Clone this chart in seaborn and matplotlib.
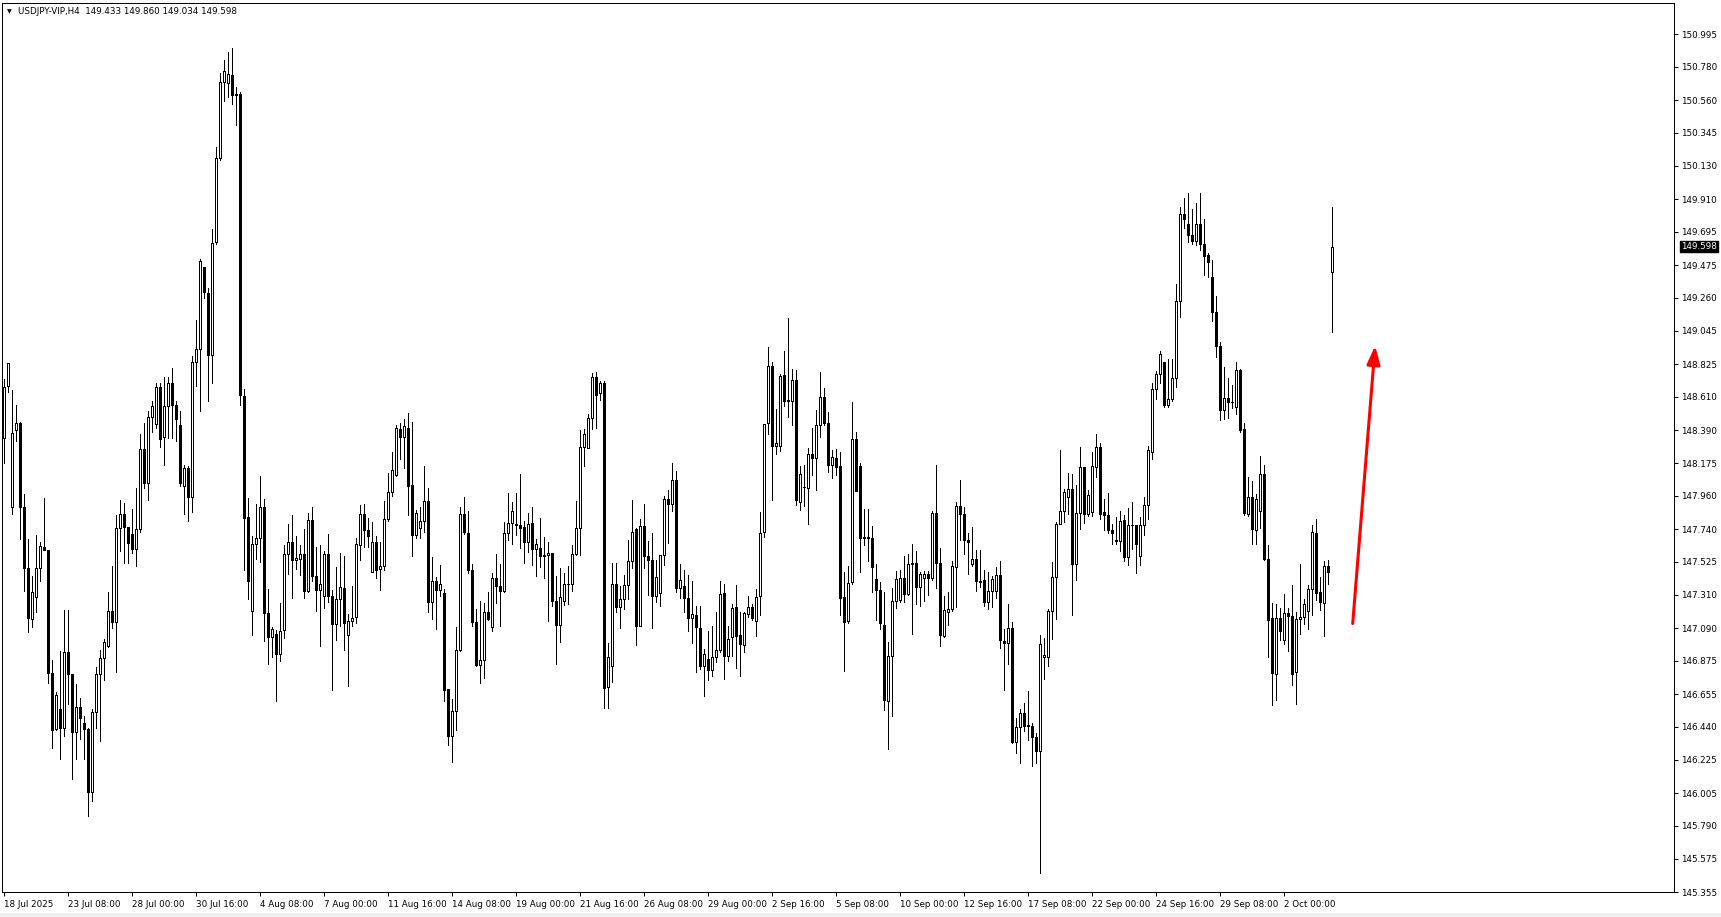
import numpy as np
import pandas as pd
import matplotlib
matplotlib.use("Agg")
import matplotlib.pyplot as plt
import matplotlib.transforms as mtransforms
from matplotlib.patches import Rectangle
import seaborn as sns

# ---------------- data (USDJPY-VIP, H4 candles) ----------------
open_ = [
    148.340, 148.681, 147.887, 148.390, 148.440, 147.887, 147.485, 147.149, 147.293, 147.485,
    147.625, 147.602, 146.797, 146.429, 146.556, 146.435, 146.932, 146.791, 146.405, 146.570,
    146.469, 146.429, 146.010, 146.536, 146.791, 146.891, 146.972, 147.200, 147.133, 147.746,
    147.837, 147.753, 147.709, 147.609, 147.743, 148.266, 148.044, 148.480, 148.433, 148.675,
    148.346, 148.547, 148.701, 148.557, 148.423, 148.021, 148.145, 147.954, 148.842, 148.926,
    149.462, 149.295, 148.882, 149.630, 150.177, 150.679, 150.675, 150.728, 150.596, 150.602,
    148.616, 147.818, 147.199, 147.642, 147.683, 147.888, 147.187, 147.032, 147.052, 146.921,
    147.076, 147.575, 147.654, 147.537, 147.545, 147.575, 147.331, 147.800, 147.434, 147.340,
    147.302, 147.575, 147.302, 147.120, 147.281, 147.355, 147.046, 147.135, 147.164, 147.633,
    147.839, 147.736, 147.457, 147.654, 147.478, 147.495, 147.809, 147.985, 148.097, 148.396,
    148.346, 148.402, 148.029, 147.701, 147.751, 147.795, 147.927, 147.261, 147.399, 147.340,
    147.319, 146.689, 146.378, 146.547, 146.943, 147.841, 147.714, 147.473, 147.127, 146.849,
    146.878, 147.195, 147.097, 147.418, 147.364, 147.331, 147.714, 147.780, 147.773, 147.765,
    147.754, 147.653, 147.780, 147.611, 147.616, 147.570, 147.570, 147.583, 147.265, 147.108,
    147.265, 147.379, 147.379, 147.576, 147.747, 148.279, 148.273, 148.470, 148.739, 148.634,
    148.700, 146.702, 146.838, 147.379, 147.228, 147.281, 147.370, 147.532, 147.740, 147.101,
    147.762, 147.565, 147.539, 147.298, 147.320, 147.570, 147.938, 147.907, 148.065, 147.353,
    147.368, 147.287, 147.156, 147.178, 147.090, 146.838, 146.886, 146.812, 146.900, 146.948,
    147.320, 146.904, 147.031, 147.228, 147.046, 146.981, 147.184, 147.228, 147.138, 147.303,
    147.719, 148.441, 148.814, 148.290, 148.284, 148.755, 148.584, 148.580, 148.722, 147.922,
    148.017, 148.010, 148.235, 148.207, 148.426, 148.608, 148.437, 148.159, 148.207, 148.157,
    147.294, 147.134, 147.390, 148.332, 148.157, 147.688, 147.688, 147.681, 147.412, 147.337,
    147.113, 146.610, 146.909, 147.266, 147.273, 147.419, 147.315, 147.509, 147.521, 147.363,
    147.419, 147.448, 147.419, 147.845, 147.516, 147.040, 147.193, 147.217, 147.490, 147.891,
    147.837, 147.672, 147.509, 147.541, 147.395, 147.404, 147.259, 147.332, 147.332, 147.436,
    147.006, 146.991, 147.088, 146.342, 146.439, 146.529, 146.452, 146.444, 146.374, 146.282,
    146.901, 146.901, 147.200, 147.424, 147.777, 147.857, 147.954, 148.003, 147.514, 147.845,
    148.149, 147.837, 147.850, 148.149, 148.280, 147.850, 147.835, 147.737, 147.671, 147.662,
    147.802, 147.556, 147.767, 147.767, 147.561, 147.767, 147.896, 148.248, 148.663, 148.762,
    148.839, 148.558, 148.593, 148.734, 149.238, 149.813, 149.747, 149.672, 149.632, 149.747,
    149.613, 149.543, 149.398, 149.168, 148.945, 148.523, 148.605, 148.576, 148.546, 148.788,
    148.398, 147.842, 147.953, 147.732, 147.858, 148.105, 147.544, 147.155, 146.791, 147.155,
    147.010, 147.190, 147.169, 146.799, 147.150, 147.162, 147.202, 147.350, 147.718, 147.326,
    147.256, 147.497, 149.433,
]
high = [
    148.725, 148.835, 148.658, 148.557, 148.447, 147.971, 147.676, 147.434, 147.703, 147.659,
    147.947, 147.602, 146.881, 146.670, 146.938, 147.210, 147.210, 146.791, 146.720, 146.630,
    146.513, 146.435, 146.556, 146.831, 146.948, 147.015, 147.327, 147.495, 147.830, 147.930,
    147.910, 147.753, 147.870, 148.011, 148.366, 148.440, 148.514, 148.581, 148.701, 148.701,
    148.742, 148.742, 148.802, 148.581, 148.514, 148.165, 148.155, 148.876, 149.117, 149.519,
    149.462, 149.328, 149.714, 150.250, 150.737, 150.827, 150.880, 150.904, 150.646, 150.616,
    148.660, 147.947, 147.692, 147.906, 148.088, 147.941, 147.349, 147.096, 147.076, 147.252,
    147.633, 147.771, 147.830, 147.698, 147.639, 147.742, 147.844, 147.883, 147.625, 147.633,
    147.595, 147.707, 147.340, 147.492, 147.583, 147.566, 147.184, 147.369, 147.683, 147.897,
    147.906, 147.815, 147.789, 147.692, 147.654, 147.927, 148.111, 148.249, 148.425, 148.440,
    148.463, 148.507, 148.446, 147.868, 147.888, 148.155, 148.009, 147.560, 147.428, 147.507,
    147.349, 146.689, 146.624, 147.097, 147.885, 147.951, 147.859, 147.513, 147.215, 147.265,
    147.254, 147.327, 147.451, 147.578, 147.513, 147.784, 147.977, 147.916, 147.977, 148.102,
    147.791, 147.846, 147.889, 147.677, 147.813, 147.688, 147.655, 147.583, 147.429, 147.484,
    147.451, 147.500, 147.637, 147.927, 148.393, 148.400, 148.498, 148.765, 148.772, 148.711,
    148.715, 146.991, 147.517, 147.517, 147.368, 147.440, 147.670, 147.933, 147.747, 147.806,
    147.905, 147.664, 147.714, 147.539, 147.572, 147.955, 147.999, 148.174, 148.124, 147.511,
    147.469, 147.441, 147.401, 147.233, 147.233, 146.952, 147.073, 147.105, 147.195, 147.401,
    147.381, 147.105, 147.250, 147.375, 147.198, 147.193, 147.303, 147.250, 147.346, 147.852,
    148.433, 148.936, 148.838, 148.529, 148.761, 148.914, 149.127, 148.792, 148.787, 148.157,
    148.163, 148.273, 148.404, 148.525, 148.772, 148.667, 148.509, 148.262, 148.266, 148.246,
    147.458, 147.500, 148.575, 148.382, 148.174, 147.872, 147.872, 147.763, 147.511, 147.392,
    147.327, 146.999, 147.351, 147.468, 147.473, 147.565, 147.575, 147.643, 147.594, 147.461,
    147.468, 147.468, 147.862, 148.161, 147.614, 147.302, 147.327, 147.533, 147.918, 148.061,
    147.886, 147.716, 147.752, 147.602, 147.602, 147.473, 147.461, 147.429, 147.492, 147.529,
    147.084, 147.249, 147.127, 146.500, 146.561, 146.598, 146.678, 146.464, 146.398, 147.042,
    147.023, 147.217, 147.526, 147.789, 148.263, 148.003, 148.110, 148.105, 148.032, 148.282,
    148.149, 147.996, 148.250, 148.367, 148.304, 147.940, 147.978, 147.777, 147.819, 147.861,
    147.835, 147.882, 147.917, 147.767, 147.819, 147.953, 148.288, 148.703, 148.781, 148.910,
    148.839, 148.856, 148.862, 149.351, 149.860, 149.919, 149.949, 149.843, 149.883, 149.949,
    149.778, 149.555, 149.508, 149.273, 148.968, 148.804, 148.734, 148.687, 148.839, 148.792,
    148.436, 148.084, 148.058, 147.971, 148.222, 148.164, 147.638, 147.256, 147.249, 147.225,
    147.314, 147.220, 147.373, 147.197, 147.514, 147.279, 147.373, 147.765, 147.807, 147.427,
    147.530, 147.537, 149.860,
]
low = [
    148.172, 148.641, 147.843, 148.323, 147.676, 147.334, 147.066, 147.099, 147.193, 147.401,
    147.602, 146.730, 146.301, 146.422, 146.227, 146.378, 146.590, 146.100, 146.227, 146.362,
    146.227, 145.852, 145.953, 146.435, 146.345, 146.747, 146.965, 147.092, 146.804, 147.595,
    147.518, 147.518, 147.585, 147.501, 147.719, 148.011, 147.930, 148.380, 148.407, 148.279,
    148.165, 148.340, 148.340, 148.323, 148.021, 147.837, 147.796, 147.853, 148.681, 148.514,
    149.261, 148.581, 148.701, 149.613, 150.167, 150.552, 150.581, 150.537, 150.399, 148.557,
    147.472, 147.281, 147.046, 147.545, 147.525, 147.003, 146.856, 146.900, 146.612, 146.871,
    147.026, 147.443, 147.290, 147.478, 147.437, 147.290, 147.325, 147.399, 147.199, 146.973,
    147.223, 147.261, 146.686, 147.009, 147.105, 146.944, 146.709, 147.105, 147.126, 147.537,
    147.625, 147.625, 147.457, 147.419, 147.340, 147.472, 147.795, 147.956, 148.088, 148.199,
    148.141, 147.830, 147.566, 147.683, 147.683, 147.721, 147.193, 147.149, 147.085, 147.302,
    146.612, 146.323, 146.207, 146.418, 146.937, 147.710, 147.451, 147.101, 146.843, 146.729,
    146.762, 147.145, 147.068, 147.254, 147.105, 147.324, 147.666, 147.644, 147.703, 147.616,
    147.521, 147.587, 147.502, 147.434, 147.489, 147.418, 147.134, 147.232, 146.856, 146.996,
    147.243, 147.248, 147.331, 147.572, 147.572, 148.157, 148.273, 148.397, 148.404, 148.586,
    146.564, 146.564, 146.733, 147.193, 147.088, 147.215, 147.281, 147.484, 146.976, 147.101,
    147.482, 147.309, 147.088, 147.259, 147.237, 147.502, 147.649, 147.857, 147.324, 147.287,
    147.195, 147.068, 146.992, 146.799, 146.821, 146.645, 146.751, 146.777, 146.865, 146.930,
    146.757, 146.871, 146.908, 146.827, 146.772, 146.930, 147.162, 147.140, 147.035, 147.178,
    147.688, 148.365, 147.929, 148.235, 148.257, 148.547, 148.476, 148.422, 147.896, 147.863,
    147.894, 147.776, 148.098, 147.999, 148.345, 148.426, 148.113, 148.076, 148.098, 147.178,
    146.805, 147.123, 147.380, 147.988, 147.456, 147.638, 147.528, 147.324, 147.140, 147.084,
    146.554, 146.294, 146.512, 147.224, 147.259, 147.259, 147.307, 147.054, 147.249, 147.234,
    147.266, 147.307, 147.404, 147.351, 146.974, 147.030, 147.108, 147.200, 147.229, 147.672,
    147.575, 147.448, 147.497, 147.332, 147.363, 147.234, 147.217, 147.229, 147.290, 146.962,
    146.683, 146.853, 146.335, 146.269, 146.204, 146.415, 146.354, 146.180, 146.201, 145.479,
    146.756, 146.841, 147.016, 147.151, 147.772, 147.789, 147.842, 147.176, 147.404, 147.740,
    147.781, 147.825, 147.825, 148.081, 147.808, 147.733, 147.718, 147.643, 147.643, 147.596,
    147.530, 147.502, 147.608, 147.455, 147.502, 147.701, 147.807, 148.201, 148.593, 148.698,
    148.546, 148.546, 148.581, 148.675, 149.133, 149.719, 149.625, 149.618, 149.606, 149.578,
    149.414, 149.398, 149.109, 148.874, 148.457, 148.464, 148.468, 148.534, 148.499, 148.382,
    147.830, 147.826, 147.643, 147.643, 147.748, 147.537, 146.897, 146.583, 146.616, 147.014,
    146.986, 146.939, 146.716, 146.592, 147.052, 147.115, 147.085, 147.173, 147.272, 147.209,
    147.038, 147.380, 149.034,
]
close = [
    148.675, 148.835, 148.373, 148.440, 147.887, 147.485, 147.159, 147.327, 147.485, 147.629,
    147.602, 146.797, 146.422, 146.647, 146.435, 146.932, 146.791, 146.405, 146.570, 146.496,
    146.429, 146.010, 146.536, 146.791, 146.891, 146.998, 147.200, 147.133, 147.746, 147.843,
    147.753, 147.652, 147.609, 147.743, 148.266, 148.044, 148.480, 148.547, 148.675, 148.333,
    148.547, 148.701, 148.557, 148.467, 148.044, 148.145, 147.954, 148.842, 148.926, 149.506,
    149.301, 148.882, 149.620, 150.177, 150.679, 150.753, 150.734, 150.596, 150.598, 148.622,
    147.815, 147.399, 147.642, 147.683, 147.888, 147.187, 147.032, 147.085, 146.921, 147.070,
    147.575, 147.654, 147.537, 147.551, 147.575, 147.331, 147.800, 147.434, 147.340, 147.378,
    147.575, 147.302, 147.120, 147.281, 147.360, 147.126, 147.135, 147.155, 147.642, 147.839,
    147.736, 147.692, 147.654, 147.472, 147.495, 147.809, 147.985, 148.132, 148.402, 148.346,
    148.419, 148.023, 147.701, 147.847, 147.795, 147.927, 147.261, 147.399, 147.340, 147.378,
    146.686, 146.378, 146.547, 146.948, 147.841, 147.721, 147.473, 147.127, 146.849, 146.878,
    147.195, 147.149, 147.418, 147.364, 147.331, 147.714, 147.780, 147.857, 147.765, 147.751,
    147.653, 147.773, 147.611, 147.642, 147.561, 147.561, 147.583, 147.265, 147.108, 147.294,
    147.379, 147.381, 147.576, 147.747, 148.279, 148.365, 148.470, 148.739, 148.623, 148.700,
    146.696, 146.900, 147.379, 147.228, 147.281, 147.370, 147.532, 147.721, 147.101, 147.762,
    147.561, 147.535, 147.298, 147.425, 147.570, 147.938, 147.907, 148.065, 147.353, 147.408,
    147.287, 147.156, 147.184, 147.097, 146.838, 146.922, 146.812, 146.900, 146.948, 147.316,
    146.904, 147.018, 147.222, 147.040, 146.985, 147.189, 147.228, 147.156, 147.294, 147.714,
    148.433, 148.816, 148.290, 148.306, 148.748, 148.580, 148.586, 148.722, 147.929, 148.104,
    148.019, 148.235, 148.207, 148.426, 148.608, 148.437, 148.159, 148.214, 148.152, 147.287,
    147.127, 147.386, 148.332, 147.988, 147.681, 147.681, 147.681, 147.491, 147.337, 147.123,
    146.615, 146.909, 147.266, 147.412, 147.419, 147.315, 147.509, 147.521, 147.363, 147.448,
    147.448, 147.419, 147.845, 147.521, 147.047, 147.212, 147.217, 147.497, 147.891, 147.837,
    147.672, 147.655, 147.541, 147.400, 147.397, 147.259, 147.332, 147.412, 147.436, 147.011,
    146.991, 147.088, 146.342, 146.439, 146.529, 146.447, 146.444, 146.372, 146.282, 146.986,
    146.914, 147.200, 147.424, 147.777, 147.862, 147.983, 148.003, 147.514, 147.845, 148.149,
    147.837, 147.964, 148.153, 148.280, 147.842, 147.832, 147.732, 147.713, 147.662, 147.795,
    147.556, 147.765, 147.767, 147.643, 147.767, 147.896, 148.260, 148.663, 148.762, 148.893,
    148.558, 148.598, 148.734, 149.238, 149.813, 149.782, 149.672, 149.632, 149.747, 149.618,
    149.538, 149.496, 149.168, 148.945, 148.523, 148.605, 148.576, 148.578, 148.785, 148.394,
    147.849, 147.953, 147.741, 147.941, 148.105, 147.544, 147.143, 146.794, 147.155, 147.068,
    147.190, 147.169, 146.787, 147.150, 147.162, 147.249, 147.350, 147.720, 147.319, 147.263,
    147.497, 147.460, 149.598,
]

time_labels = ["18 Jul 2025", "23 Jul 08:00", "28 Jul 00:00", "30 Jul 16:00", "4 Aug 08:00",
               "7 Aug 00:00", "11 Aug 16:00", "14 Aug 08:00", "19 Aug 00:00", "21 Aug 16:00",
               "26 Aug 08:00", "29 Aug 00:00", "2 Sep 16:00", "5 Sep 08:00", "10 Sep 00:00",
               "12 Sep 16:00", "17 Sep 08:00", "22 Sep 00:00", "24 Sep 16:00", "29 Sep 08:00",
               "2 Oct 00:00"]
bars_per_label = 16

price_labels = ["150.995", "150.780", "150.560", "150.345", "150.130", "149.910", "149.695",
                "149.475", "149.260", "149.045", "148.825", "148.610", "148.390", "148.175",
                "147.960", "147.740", "147.525", "147.310", "147.090", "146.875", "146.655",
                "146.440", "146.225", "146.005", "145.790", "145.575", "145.355"]

symbol = "USDJPY-VIP,H4"
last_ohlc = ["149.433", "149.860", "149.034", "149.598"]
arrow_from = (337.3, 147.12)
arrow_to = (342.9, 148.945)

# ---------------- figure ----------------
sns.set_style("white")
plt.rcParams["font.family"] = ["DejaVu Sans"]
FS = 6.3
PX = 0.72  # one pixel in points at dpi 100

W, H = 1721, 917
fig = plt.figure(figsize=(W / 100, H / 100), dpi=100, facecolor="white")
ax = fig.add_axes([2 / W, (917 - 892) / H, 1672 / W, 889 / H])
ax.set_facecolor("white")

n = len(close)
idx = np.arange(n)
o = np.array(open_); h = np.array(high); l = np.array(low); c = np.array(close)

# wicks via seaborn
wick_df = pd.DataFrame({
    "bar": np.concatenate([idx, idx]),
    "price": np.concatenate([l, h]),
})
sns.lineplot(data=wick_df, x="bar", y="price", units="bar", estimator=None, sort=False,
             color="black", linewidth=PX, ax=ax, legend=False, zorder=2,
             antialiased=False)

# bodies
bull = c >= o
bottoms = np.minimum(o, c)
heights = np.abs(c - o)
ax.bar(idx[bull], heights[bull], bottom=bottoms[bull], width=0.5,
       color="white", edgecolor="black", linewidth=PX, zorder=3, antialiased=False)
ax.bar(idx[~bull], heights[~bull], bottom=bottoms[~bull], width=0.5,
       color="black", edgecolor="black", linewidth=PX, zorder=3, antialiased=False)

ax.set_xlim(-0.375, 417.625)
ax.set_ylim(145.358, 151.199)
ax.set_xlabel("")
ax.set_ylabel("")

# red arrow
ax.annotate("", xy=arrow_to, xytext=arrow_from,
            arrowprops=dict(arrowstyle="-|>,head_length=0.55,head_width=0.2",
                            color="#ff0000", lw=2.2, mutation_scale=20,
                            shrinkA=0, shrinkB=0), zorder=5)

# spines
for s in ax.spines.values():
    s.set_color("black")
    s.set_linewidth(PX)
    s.set_visible(True)

# y axis on right
ax.yaxis.tick_right()
yt = [float(v) for v in price_labels]
ax.set_yticks(yt)
ax.set_yticklabels(price_labels)
ax.tick_params(axis="y", which="both", right=True, left=False, direction="out",
               length=3, width=PX, pad=2, labelsize=FS, colors="black")

# x axis labels
xt = [i * bars_per_label for i in range(len(time_labels))]
ax.set_xticks(xt)
ax.set_xticklabels(time_labels)
ax.tick_params(axis="x", which="both", bottom=True, direction="out",
               length=3, width=PX, pad=2.5, labelsize=FS, colors="black")
offset = mtransforms.ScaledTranslation(1 / 100, 0, fig.dpi_scale_trans)
for lab in ax.get_xticklabels():
    lab.set_horizontalalignment("left")
    lab.set_transform(lab.get_transform() + offset)
ax.grid(False)

# current price box
trans = mtransforms.blended_transform_factory(ax.transAxes, ax.transData)
ax.text(1 + 7 / 1672, float(last_ohlc[3]), last_ohlc[3], transform=trans,
        ha="left", va="center", color="white", fontsize=FS, clip_on=False,
        bbox=dict(boxstyle="square,pad=0.15", fc="black", ec="black"), zorder=10)

# header
fig.text(7 / W, 1 - 12 / H, "\u25bc", fontsize=4.5, ha="left", va="center", color="black")
fig.text(18 / W, 1 - 12 / H, symbol + "  " + " ".join(last_ohlc), fontsize=FS,
         ha="left", va="center", color="black")

# bottom light-gray strip
fig.patches.append(Rectangle((0, 0), 1, 4 / H, transform=fig.transFigure,
                             facecolor="#f0f0f0", edgecolor="none", zorder=0))

fig.savefig("out.png", dpi=100, facecolor="white")
